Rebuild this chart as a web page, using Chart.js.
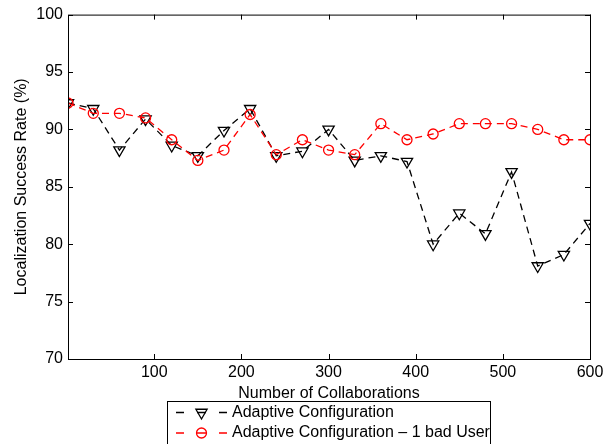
<!DOCTYPE html>
<html><head><meta charset="utf-8">
<script src="https://cdn.jsdelivr.net/npm/chart.js@4/dist/chart.umd.min.js"></script>
<style>html,body{margin:0;padding:0;background:#fff;}#wrap{width:608px;height:444px;}</style>
</head><body><div id="wrap"><canvas id="c" width="608" height="444"></canvas></div>
<script>
const collaborations = [1,30,60,90,120,150,180,210,240,270,300,330,360,390,420,450,480,510,540,570,600];
const adaptive = [92.3,91.8,88.2,90.9,88.6,87.7,89.9,91.8,87.7,88.1,90.0,87.3,87.7,87.2,80.0,82.7,80.9,86.3,78.1,79.1,81.8];
const adaptiveBadUser = [92.3,91.4,91.4,91.0,89.1,87.3,88.2,91.3,87.8,89.1,88.2,87.8,90.5,89.1,89.6,90.5,90.5,90.5,90.0,89.1,89.1];
const seriesLabels = ['Adaptive Configuration','Adaptive Configuration \u2013 1 bad User'];
const xTicks = [100,200,300,400,500,600];
const yTicks = [70,75,80,85,90,95,100];
const xTitle = 'Number of Collaborations';
const yTitle = 'Localization Success Rate (%)';

const FONT = 'Liberation Sans, Arial, Helvetica, sans-serif';
const FS = 16;

const boxPlugin = {
  id: 'boxPlugin',
  afterDraw(chart) {
    const ctx = chart.ctx, a = chart.chartArea;
    const xs = chart.scales.x, ys = chart.scales.y;
    ctx.save();
    ctx.strokeStyle = '#000'; ctx.lineWidth = 1; ctx.setLineDash([]);
    ctx.strokeRect(a.left + 0.5, a.top + 0.5, a.right - a.left, a.bottom - a.top);
    const TL = 5;
    ctx.beginPath();
    xTicks.forEach(v => {
      const px = Math.round(xs.getPixelForValue(v)) + 0.5;
      ctx.moveTo(px, a.bottom); ctx.lineTo(px, a.bottom - TL);
      ctx.moveTo(px, a.top); ctx.lineTo(px, a.top + TL);
    });
    yTicks.forEach(v => {
      const py = Math.round(ys.getPixelForValue(v)) + 0.5;
      ctx.moveTo(a.left, py); ctx.lineTo(a.left + TL, py);
      ctx.moveTo(a.right, py); ctx.lineTo(a.right - TL, py);
    });
    ctx.stroke();

    // legend
    const lx = 167, ly = 401, lw = 323, lh = 60;
    ctx.fillStyle = '#fff';
    ctx.fillRect(lx, ly, lw, lh);
    ctx.strokeRect(lx + 0.5, ly + 0.5, lw, lh);
    const rows = [412.5, 433];
    chart.data.datasets.forEach((ds, i) => {
      const y = rows[i];
      ctx.strokeStyle = ds.borderColor; ctx.lineWidth = 1.3;
      ctx.beginPath();
      [[176,184],[197,206],[219,227]].forEach(s => { ctx.moveTo(s[0], y); ctx.lineTo(s[1], y); });
      ctx.stroke();
      ctx.fillStyle = 'rgba(0,0,0,0)';
      ctx.strokeStyle = ds.borderColor;
      Chart.helpers.drawPoint(ctx, {pointStyle: ds.pointStyle, rotation: ds.pointRotation || 0, radius: ds.pointRadius, borderWidth: 1.3}, 201.5, y);
      ctx.fillStyle = '#000';
      ctx.font = FS + 'px ' + FONT;
      ctx.textBaseline = 'middle'; ctx.textAlign = 'left';
      ctx.fillText(ds.label, 232, y);
    });
    ctx.restore();
  }
};

new Chart(document.getElementById('c'), {
  type: 'line',
  data: {
    labels: collaborations,
    datasets: [
      {
        label: seriesLabels[0],
        data: collaborations.map((x, i) => ({x, y: adaptive[i]})),
        borderColor: '#000', backgroundColor: 'rgba(0,0,0,0)',
        borderWidth: 1.3, borderDash: [7,5],
        pointStyle: 'triangle', pointRotation: 180, pointRadius: 6.5,
        pointBorderColor: '#000', pointBackgroundColor: 'rgba(0,0,0,0)', pointBorderWidth: 1.3,
        tension: 0, order: 1
      },
      {
        label: seriesLabels[1],
        data: collaborations.map((x, i) => ({x, y: adaptiveBadUser[i]})),
        borderColor: '#ff0000', backgroundColor: 'rgba(0,0,0,0)',
        borderWidth: 1.3, borderDash: [7,5],
        pointStyle: 'circle', pointRadius: 5, 
        pointBorderColor: '#ff0000', pointBackgroundColor: 'rgba(0,0,0,0)', pointBorderWidth: 1.3,
        tension: 0, order: 0
      }
    ]
  },
  options: {
    responsive: false, animation: false, devicePixelRatio: 1,
    layout: { padding: { left: 0, right: 18, top: 12, bottom: 41 } },
    plugins: { legend: { display: false }, tooltip: { enabled: false } },
    scales: {
      x: {
        type: 'linear', min: 1, max: 600,
        afterBuildTicks: s => { s.ticks = xTicks.map(v => ({value: v})); },
        grid: { display: false, drawTicks: false }, border: { display: false },
        ticks: { color: '#000', font: { family: FONT, size: FS }, padding: 4, maxRotation: 0 },
        title: { display: true, text: xTitle, color: '#000', font: { family: FONT, size: FS }, padding: { top: 0, bottom: 0 } },
        afterFit: s => { s.height = 44; }
      },
      y: {
        type: 'linear', min: 70, max: 100,
        afterBuildTicks: s => { s.ticks = yTicks.map(v => ({value: v})); },
        grid: { display: false, drawTicks: false }, border: { display: false },
        ticks: { color: '#000', font: { family: FONT, size: FS }, padding: 5 },
        title: { display: true, text: yTitle, color: '#000', font: { family: FONT, size: FS }, padding: { top: 12, bottom: 0 } },
        afterFit: s => { s.width = 68; }
      }
    }
  },
  plugins: [boxPlugin]
});
</script></body></html>
